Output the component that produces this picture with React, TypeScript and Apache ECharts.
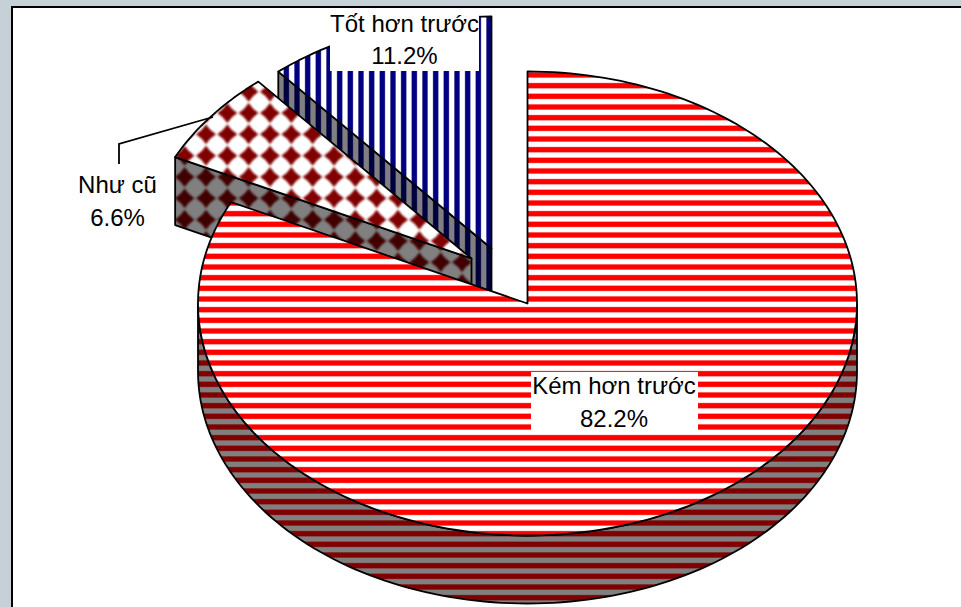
import React, { useEffect, useRef } from "react";
import * as echarts from "echarts";

const categories = ["Kém hơn trước", "Như cũ", "Tốt hơn trước"];
const shares = [82.2, 6.6, 11.2];
const drawOrder = [2, 1, 0];

const W = 961;
const H = 607;
const CX = 527.5;
const CY = 303.5;
const RX = 329.5;
const RY = 232;
const DEPTH = 68;
const EXPLODE: number[][] = [
  [0, 0],
  [-56, -45],
  [-36, -55],
];
const LABEL_BOX: number[][] = [
  [531, 372, 167, 60],
  [78, 170, 80, 64],
  [330, 10, 149, 61],
];
const LABEL_POS: number[][] = [
  [614, 402],
  [117.5, 201],
  [404.5, 39.5],
];
const LEADER = [
  [119, 164],
  [119, 144],
  [213, 117],
];
const TILE = 32;
const FONT = '24px "Liberation Sans", Arial, sans-serif';
// Phase of the hatching on the page: centre of one band or one diamond.
const RED_BAND_Y = 75;
const BLUE_BAND_X = 425;
const DIAMOND_X = 206;
const DIAMOND_Y = 155.7;

function stripeImage(vertical: boolean, anchor: number, band: string, gap: string) {
  const c = document.createElement("canvas");
  c.width = TILE;
  c.height = TILE;
  const ctx = c.getContext("2d")!;
  ctx.fillStyle = gap;
  ctx.fillRect(0, 0, TILE, TILE);
  ctx.fillStyle = band;
  const period = TILE / 3;
  for (let p = 0; p < TILE; p++) {
    // distance of this pixel row/column to the nearest band centre, 0..0.5 of a period
    let t = (((p + 0.5 - anchor) % period) + period) % period;
    t = Math.min(t, period - t) / period;
    const cover = t <= 0.19 ? 1 : t >= 0.31 ? 0 : (0.31 - t) / 0.12;
    ctx.globalAlpha = cover;
    if (vertical) ctx.fillRect(p, 0, 1, TILE);
    else ctx.fillRect(0, p, TILE, 1);
  }
  return c;
}

function diamondImage(band: string, gap: string) {
  const size = TILE * 2;
  const step = size / 3;
  const c = document.createElement("canvas");
  c.width = size;
  c.height = size;
  const ctx = c.getContext("2d")!;
  ctx.fillStyle = gap;
  ctx.fillRect(0, 0, size, size);
  (ctx as any).filter = "blur(0.9px)";
  ctx.fillStyle = band;
  const r = 10;
  const k = 3.8;
  const ax = DIAMOND_X % step;
  const ay = DIAMOND_Y % step;
  for (let ix = -1; ix <= 3; ix++) {
    for (let iy = -1; iy <= 3; iy++) {
      const x = ax + ix * step;
      const y = ay + iy * step;
      ctx.beginPath();
      ctx.moveTo(x, y - r);
      ctx.quadraticCurveTo(x + k, y - k, x + r, y);
      ctx.quadraticCurveTo(x + k, y + k, x, y + r);
      ctx.quadraticCurveTo(x - k, y + k, x - r, y);
      ctx.quadraticCurveTo(x - k, y - k, x, y - r);
      ctx.closePath();
      ctx.fill();
    }
  }
  return c;
}

function tile(image: HTMLCanvasElement) {
  return { image, repeat: "repeat", imageWidth: image.width, imageHeight: image.height };
}

function pt(deg: number, ox: number, oy: number): number[] {
  const a = (deg * Math.PI) / 180;
  return [CX + ox + RX * Math.sin(a), CY + oy - RY * Math.cos(a)];
}
function arc(from: number, to: number, ox: number, oy: number): number[][] {
  const n = Math.max(2, Math.ceil(Math.abs(to - from) / 1.5));
  const out: number[][] = [];
  for (let i = 0; i <= n; i++) out.push(pt(from + ((to - from) * i) / n, ox, oy));
  return out;
}

export default function App() {
  const ref = useRef<HTMLDivElement>(null);
  useEffect(() => {
    const chart = echarts.init(ref.current!, undefined, { renderer: "svg", width: W, height: H });
    const total = shares.reduce((s, v) => s + v, 0);
    const startOf = (i: number) => (shares.slice(0, i).reduce((s, v) => s + v, 0) / total) * 360;

    const fills = [
      {
        top: tile(stripeImage(false, RED_BAND_Y, "#ff0000", "#ffffff")),
        side: tile(stripeImage(false, RED_BAND_Y, "#800000", "#808080")),
      },
      { top: tile(diamondImage("#800000", "#ffffff")), side: tile(diamondImage("#400000", "#808080")) },
      {
        top: tile(stripeImage(true, BLUE_BAND_X, "#000080", "#ffffff")),
        side: tile(stripeImage(true, BLUE_BAND_X, "#000040", "#808080")),
      },
    ];
    const edge = { stroke: "#000", lineWidth: 1.8, lineJoin: "round" };

    const renderSlice = (params: any, api: any) => {
      const i = api.value(0) as number;
      const a = startOf(i);
      const b = a + ((api.value(1) as number) / total) * 360;
      const [ox, oy] = EXPLODE[i];
      const apex = [CX + ox, CY + oy];
      const down = (p: number[]) => [p[0], p[1] + DEPTH];
      const children: any[] = [];
      const face = (points: number[][]) =>
        children.push({
          type: "polygon",
          shape: { points },
          style: { fill: fills[i].side, ...edge },
        });
      const rad = Math.PI / 180;
      if (Math.sin(a * rad) < -1e-6) {
        const p = pt(a, ox, oy);
        face([apex, p, down(p), down(apex)]);
      }
      if (Math.sin(b * rad) > 1e-6) {
        const p = pt(b, ox, oy);
        face([apex, p, down(p), down(apex)]);
      }
      const lo = Math.max(a, 90);
      const hi = Math.min(b, 270);
      if (hi > lo) {
        const rim = arc(lo, hi, ox, oy);
        face([...rim, ...rim.slice().reverse().map(down)]);
      }
      children.push({
        type: "polygon",
        shape: { points: [apex, ...arc(a, b, ox, oy)] },
        style: { fill: fills[i].top, ...edge },
      });
      return { type: "group", children };
    };

    const renderLabel = (params: any, api: any) => {
      const i = api.value(0) as number;
      const [x, y, width, height] = LABEL_BOX[i];
      const [tx, ty] = LABEL_POS[i];
      const children: any[] = [
        { type: "rect", shape: { x, y, width, height }, style: { fill: "#ffffff" } },
        {
          type: "text",
          style: {
            text: `${categories[i]}\n${(api.value(1) as number).toFixed(1)}%`,
            x: tx,
            y: ty,
            align: "center",
            verticalAlign: "middle",
            font: FONT,
            lineHeight: 32.5,
            fill: "#000000",
          },
        },
      ];
      if (i === 1) {
        children.push({
          type: "polyline",
          shape: { points: LEADER },
          style: { fill: "none", stroke: "#000", lineWidth: 1.8 },
        });
      }
      return { type: "group", children };
    };

    chart.setOption({
      animation: false,
      backgroundColor: "#c5d0d7",
      tooltip: { show: false },
      graphic: [
        {
          type: "rect",
          z: -1,
          shape: { x: 12, y: 7, width: 970, height: 620 },
          style: { fill: "#ffffff", stroke: "#000000", lineWidth: 2 },
          silent: true,
        },
      ],
      series: [
        {
          type: "custom",
          coordinateSystem: "none",
          silent: true,
          z: 2,
          renderItem: renderSlice,
          data: drawOrder.map((i) => [i, shares[i]]),
        },
        {
          type: "custom",
          coordinateSystem: "none",
          silent: true,
          z: 3,
          renderItem: renderLabel,
          data: drawOrder.map((i) => [i, shares[i]]),
        },
      ],
    });
    return () => chart.dispose();
  }, []);
  return <div ref={ref} style={{ position: "absolute", left: 0, top: 0, width: W, height: H }} />;
}
